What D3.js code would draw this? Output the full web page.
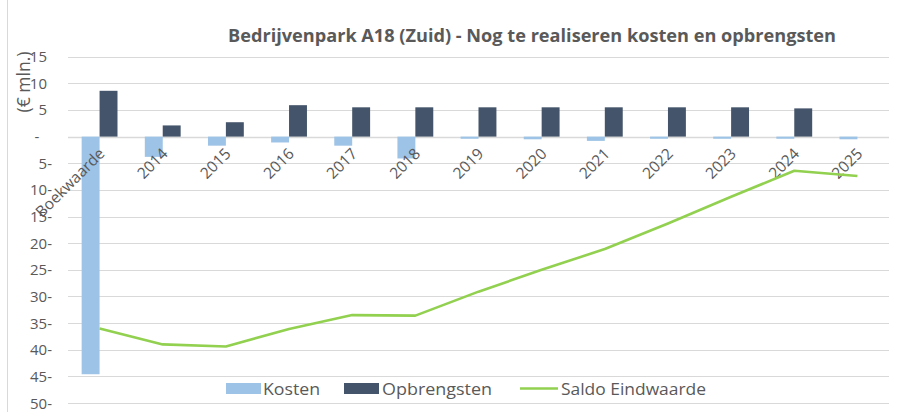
<!DOCTYPE html>
<html><head><meta charset="utf-8">
<script src="https://cdn.jsdelivr.net/npm/d3@7"></script>
<style>html,body{margin:0;padding:0;background:#fff;}svg{display:block;font-family:"Open Sans",Lato,sans-serif;}</style>
</head><body>
<svg id="chart" width="897" height="412"></svg>
<script>
const categories = ["Boekwaarde","2014","2015","2016","2017","2018","2019","2020","2021","2022","2023","2024","2025"];
const kosten = [-44.6,-3.8,-1.7,-1.1,-1.7,-4.1,-0.4,-0.5,-0.8,-0.4,-0.4,-0.4,-0.5];
const opbrengsten = [8.6,2.1,2.7,5.9,5.5,5.5,5.5,5.5,5.5,5.5,5.5,5.3,0];
const saldo = [-36.0,-39.0,-39.4,-36.1,-33.5,-33.6,-29.1,-25.0,-21.1,-16.3,-11.3,-6.4,-7.4];
const yTicks = [15,10,5,0,-5,-10,-15,-20,-25,-30,-35,-40,-45,-50];
const seriesNames = ["Kosten","Opbrengsten","Saldo Eindwaarde"];
const title = "Bedrijvenpark A18 (Zuid) - Nog te realiseren kosten en opbrengsten";
const yTitle = "(€ mln.)";

(function(){
const colors = {kosten:"#9DC3E6", opbrengsten:"#44546A", saldo:"#92D050", grid:"#d9d9d9", text:"#595959"};
const svg = d3.select("#chart");
const pLeft = 68, pRight = 889, pTop = 56.7, pBottom = 403;

const x = d3.scaleBand().domain(categories).range([pLeft, pRight]).paddingInner(0).paddingOuter(0);
const inner = d3.scaleBand().domain(["k","o"]).range([0, x.bandwidth()]).paddingInner(0).paddingOuter(0.762);
const y = d3.scaleLinear().domain([-50, 15]).range([pBottom, pTop]);

svg.append("line").attr("x1",7.5).attr("x2",7.5).attr("y1",0).attr("y2",412).attr("stroke","#d9d9d9").attr("stroke-width",1);

svg.append("g").selectAll("line").data(yTicks).join("line")
  .attr("x1", pLeft).attr("x2", pRight)
  .attr("y1", d => Math.round(y(d)) + 0.5).attr("y2", d => Math.round(y(d)) + 0.5)
  .attr("stroke", colors.grid).attr("stroke-width", d => d === 0 ? 1.5 : 1.2);

svg.append("g").selectAll("text").data(yTicks).join("text")
  .attr("x", d => d > 0 ? 47 : d === 0 ? 37 : 52)
  .attr("y", d => y(d) + 5.5)
  .attr("text-anchor", d => d === 0 ? "middle" : "end")
  .attr("fill", colors.text).attr("font-size", 15)
  .text(d => d > 0 ? d : d === 0 ? "-" : (-d) + "-");

svg.append("text").attr("transform", "translate(30,82) rotate(-90)")
  .attr("text-anchor","middle").attr("fill", colors.text).attr("font-size", 17.5).text(yTitle);

const g = svg.append("g");
g.selectAll("rect.k").data(categories).join("rect").attr("class","k")
  .attr("x", d => x(d) + inner("k")).attr("width", inner.bandwidth())
  .attr("y", (d,i) => y(Math.max(0,kosten[i]))).attr("height", (d,i) => Math.abs(y(kosten[i]) - y(0)))
  .attr("fill", colors.kosten);
g.selectAll("rect.o").data(categories).join("rect").attr("class","o")
  .attr("x", d => x(d) + inner("o")).attr("width", inner.bandwidth())
  .attr("y", (d,i) => y(Math.max(0,opbrengsten[i]))).attr("height", (d,i) => Math.abs(y(opbrengsten[i]) - y(0)))
  .attr("fill", colors.opbrengsten);

svg.append("g").selectAll("text").data(categories).join("text")
  .attr("transform", d => `translate(${x(d) + x.bandwidth()/2 + 6},${y(0) + 18}) rotate(-45)`)
  .attr("text-anchor","end").attr("fill", colors.text).attr("font-size", 15.5)
  .text(d => d);

const line = d3.line().x((d,i) => x(categories[i]) + x.bandwidth()/2).y(d => y(d));
svg.append("path").datum(saldo).attr("d", line).attr("fill","none")
  .attr("stroke", colors.saldo).attr("stroke-width", 2.6).attr("stroke-linejoin","round");

svg.append("text").attr("x", 532).attr("y", 42).attr("text-anchor","middle")
  .attr("fill", colors.text).attr("font-size", 17).attr("font-weight","bold")
  .attr("textLength", 608).attr("lengthAdjust","spacingAndGlyphs").text(title);

const lg = svg.append("g");
const items = [
  {name: seriesNames[0], type:"rect", color: colors.kosten, sx:226, tx:263, tw:57},
  {name: seriesNames[1], type:"rect", color: colors.opbrengsten, sx:344, tx:382, tw:110},
  {name: seriesNames[2], type:"line", color: colors.saldo, sx:520, tx:561, tw:145}
];
items.forEach(it => {
  if (it.type === "rect") {
    lg.append("rect").attr("x", it.sx).attr("y", 383).attr("width", 35).attr("height", 11).attr("fill", it.color);
  } else {
    lg.append("line").attr("x1", it.sx).attr("x2", it.sx + 38).attr("y1", 388.5).attr("y2", 388.5)
      .attr("stroke", it.color).attr("stroke-width", 2.6);
  }
  lg.append("text").attr("x", it.tx).attr("y", 394.5).attr("fill", colors.text).attr("font-size", 16)
    .attr("textLength", it.tw).attr("lengthAdjust","spacingAndGlyphs").text(it.name);
});
})();
</script>
</body></html>
